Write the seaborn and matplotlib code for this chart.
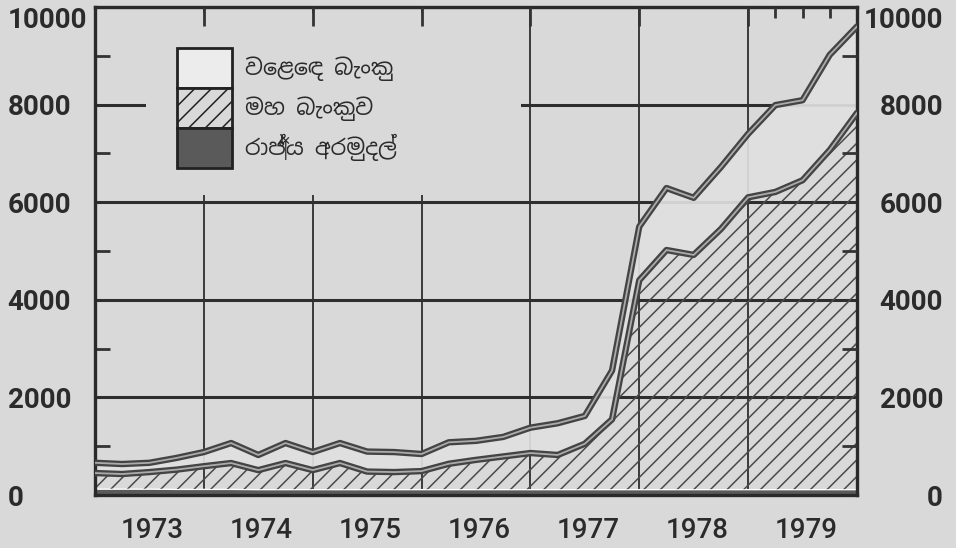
# Money supply by holder, 1973-1979 (stacked area, scanned-print look)
import matplotlib
matplotlib.use('Agg')
import numpy as np
import pandas as pd
import matplotlib.pyplot as plt
import matplotlib.font_manager as fm
from matplotlib.patches import Patch, Rectangle
import seaborn as sns

# quarter-end periods
period_end = ['1972-12', '1973-03', '1973-06', '1973-09', '1973-12',
              '1974-03', '1974-06', '1974-09', '1974-12',
              '1975-03', '1975-06', '1975-09', '1975-12',
              '1976-03', '1976-06', '1976-09', '1976-12',
              '1977-03', '1977-06', '1977-09', '1977-12',
              '1978-03', '1978-06', '1978-09', '1978-12',
              '1979-03', '1979-06', '1979-09', '1979-12']

# layers, bottom to top
govt_funds = [130, 130, 130, 125, 125, 125, 120, 120, 120, 120, 120, 120, 120,
              120, 120, 120, 120, 120, 120, 120, 120, 120, 120, 120, 120,
              120, 120, 120, 120]
central_bank = [320, 300, 340, 395, 465, 530, 390, 535, 390, 535, 360, 350, 370,
                520, 600, 670, 740, 700, 930, 1430, 4280, 4900, 4800, 5330, 5980,
                6090, 6330, 6950, 7710]
commercial_banks = [210, 205, 190, 240, 290, 410, 310, 410, 370, 410, 410, 410, 350,
                    440, 390, 400, 520, 650, 570, 1000, 1100, 1270, 1170, 1270, 1300,
                    1780, 1640, 1950, 1770]

year_labels = ['1973', '1974', '1975', '1976', '1977', '1978', '1979']
series_labels = ['වෙළෙඳ බැංකු', 'මහ බැංකුව', 'රාජ්‍ය අරමුදල්']

df = pd.DataFrame({'period': pd.to_datetime(period_end),
                   'govt': govt_funds,
                   'central': central_bank,
                   'commercial': commercial_banks})
df['t'] = df['period'].dt.year + df['period'].dt.month / 12
df['central_top'] = df['govt'] + df['central']
df['total'] = df['central_top'] + df['commercial']

# fonts
names = {f.name for f in fm.fontManager.ttflist}
sinhala = sorted(n for n in names if 'Sinhala' in n or 'Iskoola' in n)
legend_family = sinhala[:1] + ['Noto Sans', 'DejaVu Sans']
year_family = ['Liberation Sans Narrow'] if 'Liberation Sans Narrow' in names else ['Roboto']

paper = '#d9d9d9'
ink = '#2b2b2b'

sns.set_style('white')
plt.rcParams['hatch.linewidth'] = 1.1
plt.rcParams['hatch.color'] = '#4a4a4a'

fig = plt.figure(figsize=(9.56, 5.48), dpi=100, facecolor=paper)
ax = fig.add_axes([0.0994, 0.0967, 0.797, 0.8905], facecolor=paper)

# stacked layers
polys = ax.stackplot(df['t'], df['govt'], df['central'], df['commercial'],
                     colors=['#5a5a5a', 'none', '#e0e0e0'], zorder=2)
polys[1].set_hatch('//')
polys[1].set_edgecolor('#4a4a4a')
polys[1].set_linewidth(0)
polys[2].set_alpha(0.92)

# double-edged outlines
for col in ['total', 'central_top']:
    sns.lineplot(data=df, x='t', y=col, ax=ax, color='#444444', lw=4.6, zorder=4)
    sns.lineplot(data=df, x='t', y=col, ax=ax, color='#ababab', lw=1.3, zorder=5)

ax.set_xlim(1973, 1980)
ax.set_ylim(0, 10000)
ax.set_xlabel('')
ax.set_ylabel('')

# grid: horizontal every 2000, vertical on year boundaries
ax.set_yticks(np.arange(0, 10001, 2000))
ax.set_yticks(np.arange(1000, 10000, 2000), minor=True)
ax.set_xticks([int(y) + 0.53 for y in year_labels])
ax.set_xticklabels(year_labels)
ax.set_xticks(np.arange(1974, 1980), minor=True)
ax.set_axisbelow(True)
ax.grid(which='major', axis='y', color='#2e2e2e', lw=2.2)
ax.grid(which='minor', axis='x', color='#3a3a3a', lw=1.4)
ax.grid(which='major', axis='x', visible=False)

# blank patch of paper where the print has no grid (behind the legend)
ax.add_patch(Rectangle((0.067, 0.615), 0.492, 0.372, transform=ax.transAxes,
                       facecolor=paper, edgecolor='none', zorder=1))

ax.tick_params(axis='x', which='both', length=0, pad=16, colors=ink)
ax.tick_params(axis='y', which='major', length=0, pad=63, colors=ink)
ax.tick_params(axis='y', which='minor', direction='in', length=11, width=2, color='#333333')
for lab in ax.get_xticklabels():
    lab.set_fontproperties(fm.FontProperties(family=year_family, weight='medium', size=20))
ylabs = ax.get_yticklabels()
for lab in ylabs:
    lab.set_fontproperties(fm.FontProperties(family=['Roboto'], weight='bold', size=20))
    lab.set_horizontalalignment('left')
ylabs[-1].set_verticalalignment('top')

for s in ax.spines.values():
    s.set_color('#2a2a2a')
    s.set_linewidth(2.4)

# right-hand scale
ax2 = ax.twinx()
ax2.set_ylim(0, 10000)
ax2.set_yticks(np.arange(0, 10001, 2000))
ax2.set_yticks(np.arange(1000, 10000, 2000), minor=True)
ax2.tick_params(axis='y', which='major', length=0, pad=62, colors=ink)
ax2.tick_params(axis='y', which='minor', direction='in', length=11, width=2, color='#333333')
rlabs = ax2.get_yticklabels()
for lab in rlabs:
    lab.set_fontproperties(fm.FontProperties(family=['Roboto'], weight='bold', size=20))
    lab.set_horizontalalignment('right')
rlabs[-1].set_verticalalignment('top')
for s in ax2.spines.values():
    s.set_visible(False)

# top ticks at year boundaries, quarters in 1979
top = ax.secondary_xaxis('top')
top.set_xticks(np.arange(1974, 1980))
top.set_xticks([1979.25, 1979.5, 1979.75], minor=True)
top.set_xticklabels([])
top.tick_params(which='major', direction='in', length=14, width=2, color='#333333')
top.tick_params(which='minor', direction='in', length=8, width=2, color='#333333')
top.spines['top'].set_visible(False)
top.set_zorder(7)

handles = [Patch(facecolor='#ececec', edgecolor='#222222', lw=2),
           Patch(facecolor=paper, edgecolor='#222222', hatch='//', lw=2),
           Patch(facecolor='#5a5a5a', edgecolor='#222222', lw=2)]
leg = ax.legend(handles, series_labels, loc='upper left', bbox_to_anchor=(0.1076, 0.916),
                frameon=False, borderpad=0, borderaxespad=0, labelspacing=0,
                handlelength=2.48, handleheight=2.4, handletextpad=0.58,
                prop=fm.FontProperties(family=legend_family, size=16, weight='bold'))
for txt in leg.get_texts():
    txt.set_color(ink)
leg.set_zorder(6)

fig.savefig('out.png', dpi=100, facecolor=paper)
